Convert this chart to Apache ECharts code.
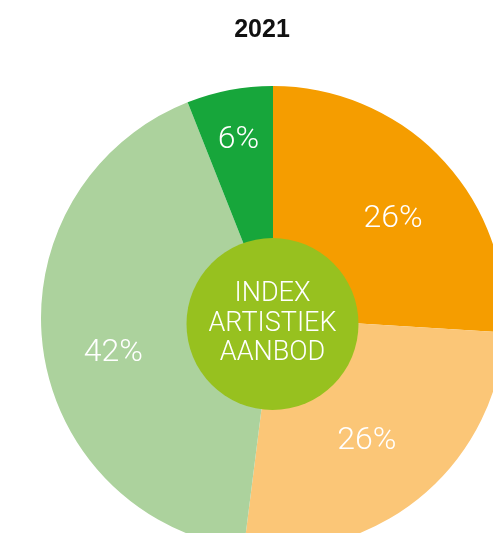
<!DOCTYPE html>
<html>
<head>
<meta charset="utf-8">
<script src="https://cdn.jsdelivr.net/npm/echarts@6/dist/echarts.min.js"></script>
<style>
  html, body { margin: 0; padding: 0; background: #fff; }
  #main { width: 493px; height: 533px; }
</style>
</head>
<body>
<div id="main"></div>
<script>
var title = '2021';
var categories = ['Categorie A', 'Categorie B', 'Categorie C', 'Categorie D'];
var values = [26, 26, 42, 6];
var colors = ['#f59d00', '#fbc677', '#acd29d', '#17a63b'];
var centerText = 'INDEX\nARTISTIEK\nAANBOD';

var chart = echarts.init(document.getElementById('main'));

var pieData = categories.map(function (name, i) {
    return { name: name, value: values[i], itemStyle: { color: colors[i] } };
});

// small nudges so labels sit where the original puts them
var nudges = [[5, 9], [-7, 1], [-3, 15], [-5, -23]];

var opts = {
    animation: false,
    title: {
        text: title,
        left: 257,
        top: 13,
        textAlign: 'center',
        textStyle: {
            fontFamily: 'Liberation Sans',
            fontWeight: 'bold',
            fontSize: 25,
            color: '#111'
        }
    },
    series: [
        {
            type: 'pie',
            center: [273, 318],
            radius: [78, 232],
            startAngle: 90,
            clockwise: true,
            silent: true,
            label: {
                show: true,
                position: 'inside',
                formatter: '{c}%',
                color: '#fff',
                fontFamily: 'Roboto',
                fontWeight: 300,
                fontSize: 32
            },
            labelLine: { show: false },
            labelLayout: function (p) {
                var n = nudges[p.dataIndex];
                return { dx: n[0], dy: n[1] };
            },
            data: pieData
        },
        {
            type: 'pie',
            center: [272.5, 324],
            radius: [0, 86],
            silent: true,
            z: 3,
            label: {
                show: true,
                position: 'center',
                formatter: centerText,
                color: '#fff',
                fontFamily: 'Roboto',
                fontWeight: 300,
                fontSize: 27,
                lineHeight: 29.5
            },
            labelLine: { show: false },
            data: [{ name: 'index', value: 1, itemStyle: { color: '#97c11f' } }]
        }
    ]
};

chart.setOption(opts);
</script>
</body>
</html>
